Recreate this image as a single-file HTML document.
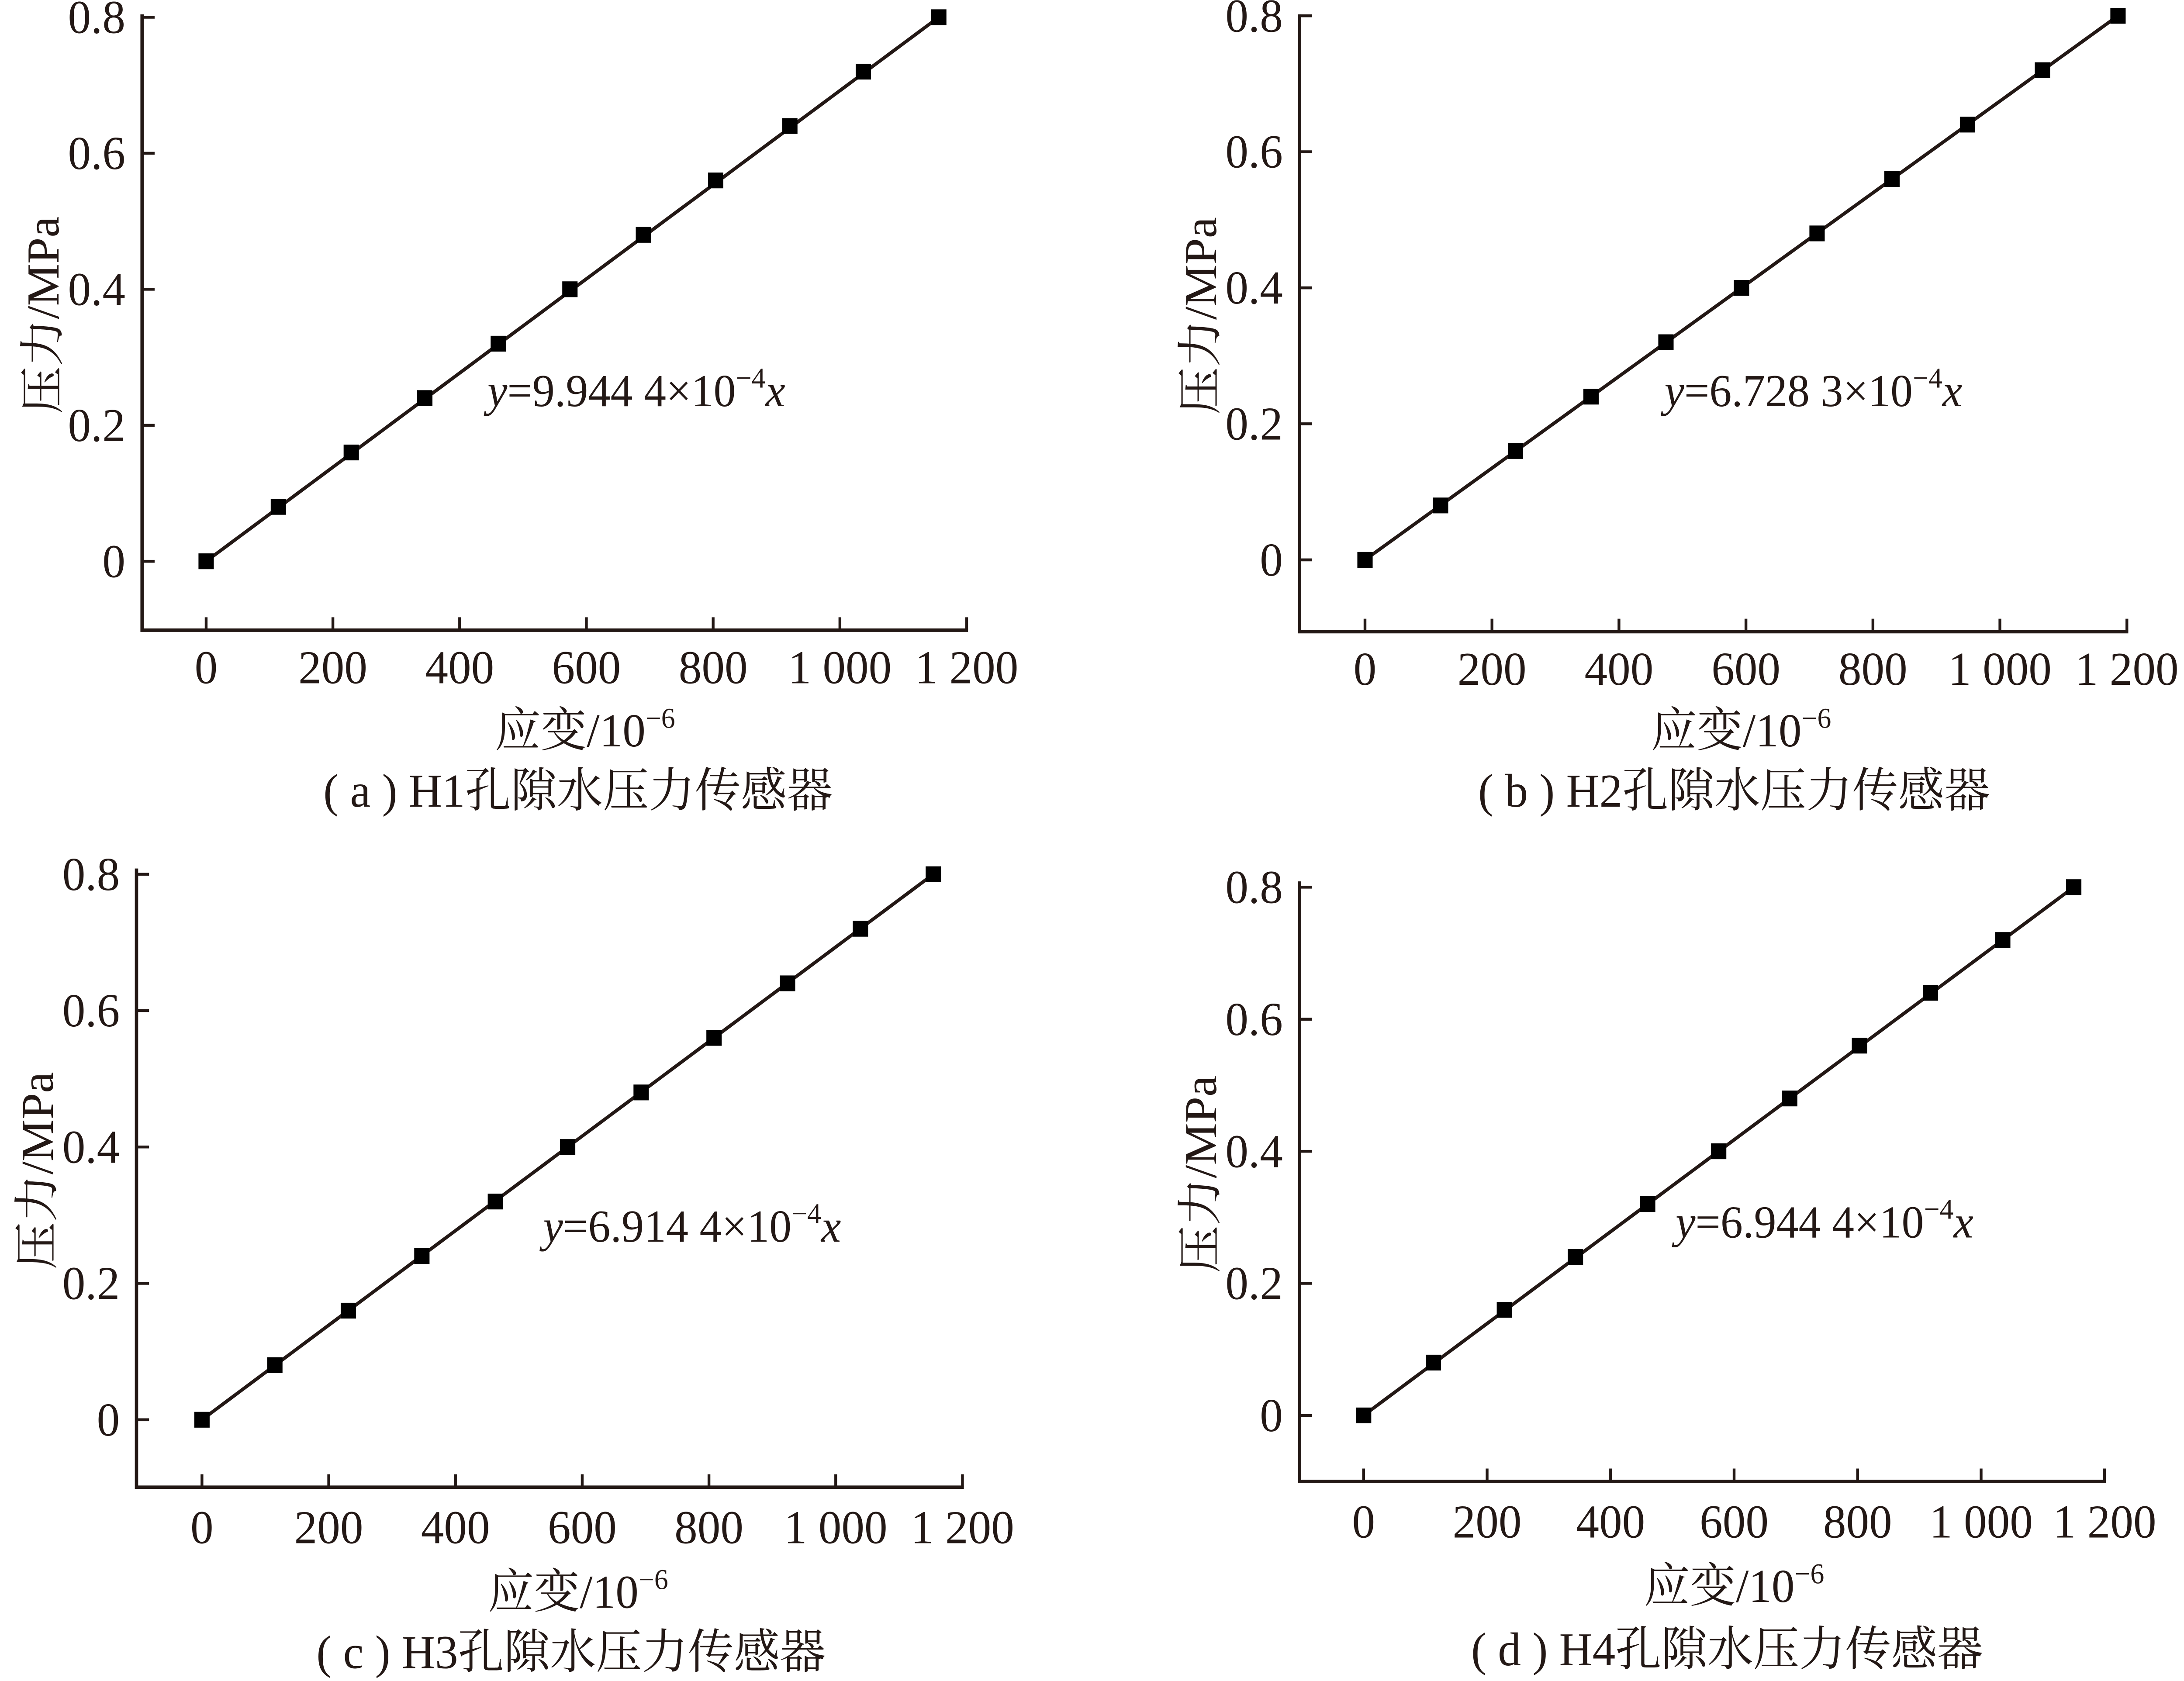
<!DOCTYPE html>
<html><head><meta charset="utf-8"><style>
html,body{margin:0;padding:0;background:#fff;overflow:hidden}
svg{display:block;width:100vw;height:100vh}
text{font-family:"Liberation Serif","Noto Serif CJK SC",serif;fill:#231815}
</style></head><body>
<svg id="chart" viewBox="0 0 1568 1171" preserveAspectRatio="none" xmlns="http://www.w3.org/2000/svg"></svg>
<script>
const xTicks=[0,200,400,600,800,1000,1200];
const xTickLabels=["0","200","400","600","800","1 000","1 200"];
const yTicks=[0,0.2,0.4,0.6,0.8];
const yTickLabels=["0","0.2","0.4","0.6","0.8"];
const pressure=[0,0.08,0.16,0.24,0.32,0.40,0.48,0.56,0.64,0.72,0.80];
const strainA=[0,114,229,345,461,574,690,804,921,1037,1156];
const strainB=[0,119,237,356,474,593,712,830,949,1067,1186];
const strainC=[0,115,231,347,463,577,693,808,924,1039,1154];
const strainD=[0,113,228,343,460,575,690,803,918,1035,1150];
const eqA=["9.944 4","−4"],eqB=["6.728 3","−4"],eqC=["6.914 4","−4"],eqD=["6.944 4","−4"];
const panels=[
 {id:"a",title:"( a ) H1孔隙水压力传感器",xs:strainA,eq:eqA,L:102,B:439,x0:148,x1200:694,y0:391,y08:12,top:10,eqx:350,eqy:283,xly:476,xlab:{x:420,y:520},ty:562},
 {id:"b",title:"( b ) H2孔隙水压力传感器",xs:strainB,eq:eqB,L:933,B:440,x0:980,x1200:1527,y0:390,y08:11,top:10,eqx:1195,eqy:283,xly:477,xlab:{x:1250,y:520},ty:562},
 {id:"c",title:"( c ) H3孔隙水压力传感器",xs:strainC,eq:eqC,L:98,B:1036,x0:145,x1200:691,y0:989,y08:609,top:605,eqx:390,eqy:865,xly:1075,xlab:{x:415,y:1120},ty:1162},
 {id:"d",title:"( d ) H4孔隙水压力传感器",xs:strainD,eq:eqD,L:933,B:1032,x0:979,x1200:1511,y0:986,y08:618,top:614,eqx:1203,eqy:862,xly:1071,xlab:{x:1245,y:1116},ty:1160}
];
const NS="http://www.w3.org/2000/svg";
const svg=document.getElementById('chart');
function mk(tag,attrs,parent){const e=document.createElementNS(NS,tag);for(const k in attrs)e.setAttribute(k,attrs[k]);(parent||svg).appendChild(e);return e;}
panels.forEach(p=>{
 const g=mk('g',{});
 
 
 const X=v=>p.x0+(p.x1200-p.x0)*v/1200;
 const Y=v=>p.y0+(p.y08-p.y0)*v/0.8;
 const right=p.x1200+1;
 const ax=mk('path',{d:`M${p.L},${p.top} V${p.B} H${right}`,fill:'none',stroke:'#231815','stroke-width':2.4},g);
 
 
 xTicks.forEach((t,i)=>{
  const tk=mk('line',{x1:X(t),x2:X(t),y1:p.B,y2:p.B-9,stroke:'#231815','stroke-width':2},g);
  
  
  const tl=mk('text',{x:X(t),y:p.xly,'font-size':33,'text-anchor':'middle'},g);
  tl.textContent=xTickLabels[i];
  
  
 });
 yTicks.forEach((t,i)=>{
  const tk=mk('line',{x1:p.L,x2:p.L+9,y1:Y(t),y2:Y(t),stroke:'#231815','stroke-width':2},g);
  
  
  const tl=mk('text',{x:p.L-12,y:Y(t)+11,'font-size':33,'text-anchor':'end'},g);
  tl.textContent=yTickLabels[i];
  
  
 });
 const n=p.xs.length-1;
 const ln=mk('line',{x1:X(p.xs[0]),y1:Y(pressure[0]),x2:X(p.xs[n]),y2:Y(pressure[n]),stroke:'#231815','stroke-width':2.4},g);
 
 
 p.xs.forEach((v,i)=>{
  const r=mk('rect',{x:X(v)-5.5,y:Y(pressure[i])-5.5,width:11,height:11,fill:'#000'},g);
  
  
 });
 const eq=mk('text',{x:p.eqx,y:p.eqy,'font-size':32},g);
 
 
 eq.innerHTML=`<tspan font-style="italic">y</tspan>=${p.eq[0]}×10<tspan font-size="20" dy="-13">${p.eq[1]}</tspan><tspan dy="13" font-style="italic">x</tspan>`;
 const yl=mk('text',{x:0,y:0,'font-size':33,'text-anchor':'middle',transform:`translate(${p.L-60},${(p.top+p.B)/2-5}) rotate(-90)`},g);
 yl.textContent='压力/MPa';
 
 
 const xl=mk('text',{x:p.xlab.x,y:p.xlab.y,'font-size':33,'text-anchor':'middle'},g);
 xl.innerHTML='应变/10<tspan font-size="20" dy="-13">−6</tspan>';
 
 
 const tt=mk('text',{x:p.xlab.x-5,y:p.ty,'font-size':33,'text-anchor':'middle'},g);
 tt.textContent=p.title;
 
 
});
</script>
</body></html>
